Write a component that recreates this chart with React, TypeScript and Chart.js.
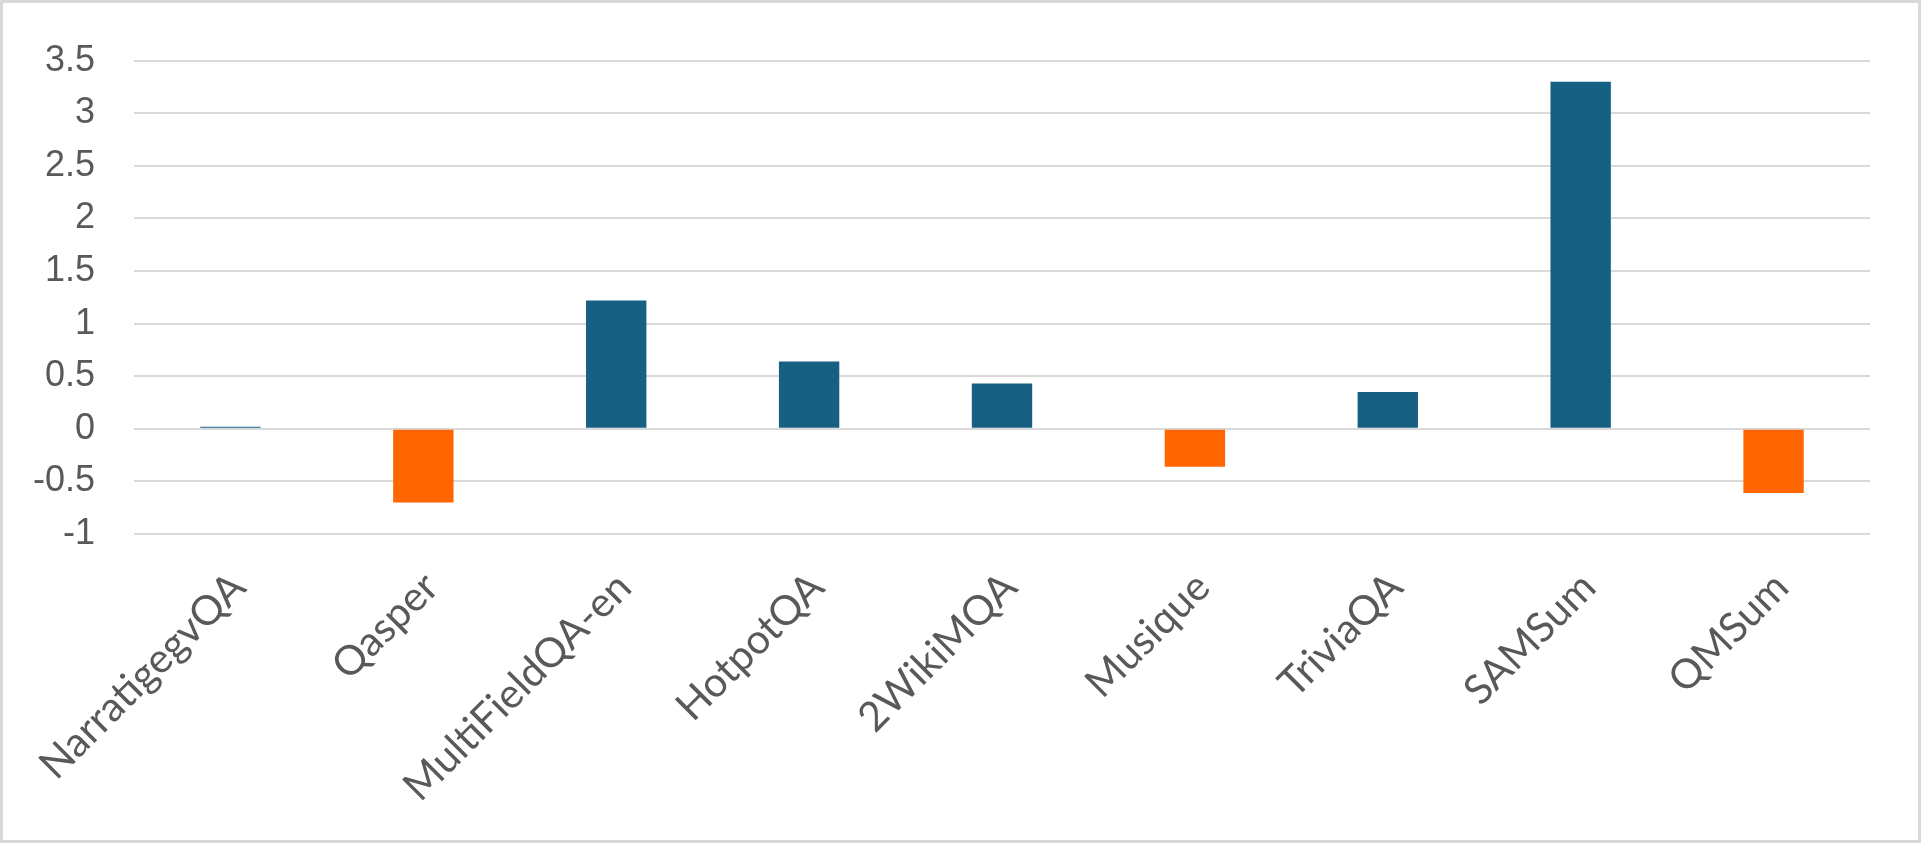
import React, { useEffect, useRef } from "react";
import { Chart, registerables } from "chart.js";

Chart.register(...registerables);

const categories = [
  "NarratigegvQA",
  "Qasper",
  "MultiFieldQA-en",
  "HotpotQA",
  "2WikiMQA",
  "Musique",
  "TriviaQA",
  "SAMSum",
  "QMSum",
];

const values = [0.02, -0.7, 1.22, 0.64, 0.43, -0.36, 0.35, 3.3, -0.61];

const yTicks = [3.5, 3, 2.5, 2, 1.5, 1, 0.5, 0, -0.5, -1];

const POSITIVE_COLOR = "#166083";
const NEGATIVE_COLOR = "#FF6600";

export default function App() {
  const canvasRef = useRef<HTMLCanvasElement | null>(null);

  useEffect(() => {
    const canvas = canvasRef.current;
    if (!canvas) return;
    const chart = new Chart(canvas, {
      type: "bar",
      data: {
        labels: categories,
        datasets: [
          {
            data: values,
            backgroundColor: values.map((v) => (v >= 0 ? POSITIVE_COLOR : NEGATIVE_COLOR)),
            borderWidth: 0,
            barPercentage: 0.313,
            categoryPercentage: 1,
          },
        ],
      },
      options: {
        responsive: false,
        animation: false,
        maintainAspectRatio: false,
        layout: { padding: { left: 0, right: 51, top: 52, bottom: 0 } },
        plugins: {
          legend: { display: false },
          tooltip: { enabled: false },
          title: { display: false },
        },
        scales: {
          x: {
            grid: { display: false, drawTicks: false },
            border: { display: false },
            ticks: {
              autoSkip: false,
              maxRotation: 45,
              minRotation: 45,
              padding: 29,
              labelOffset: 8,
              color: "#595959",
              font: { family: "Lato", size: 41 },
            },
            afterFit: (scale: any) => {
              scale.height = 309;
            },
          },
          y: {
            min: -1,
            max: 3.5,
            afterBuildTicks: (scale: any) => {
              scale.ticks = yTicks.map((v) => ({ value: v }));
            },
            grid: { color: "#d9d9d9", lineWidth: 2, drawTicks: false },
            border: { display: false },
            ticks: {
              padding: 39,
              color: "#595959",
              font: { family: "'Liberation Sans', Arial, sans-serif", size: 36 },
              callback: (v: any) => String(v),
            },
            afterFit: (scale: any) => {
              scale.width = 134;
            },
          },
        },
      },
    });
    return () => chart.destroy();
  }, []);

  return (
    <div
      style={{
        position: "absolute",
        left: 0,
        top: 0,
        width: 1921,
        height: 843,
        background: "#ffffff",
        overflow: "hidden",
      }}
    >
      <canvas
        ref={canvasRef}
        width={1921}
        height={843}
        style={{ position: "absolute", left: 0, top: 0, width: 1921, height: 843 }}
      />
      <div
        style={{
          position: "absolute",
          left: 0,
          top: 0,
          width: 1921,
          height: 843,
          border: "3px solid #d9d9d9",
          boxSizing: "border-box",
          pointerEvents: "none",
        }}
      />
    </div>
  );
}
